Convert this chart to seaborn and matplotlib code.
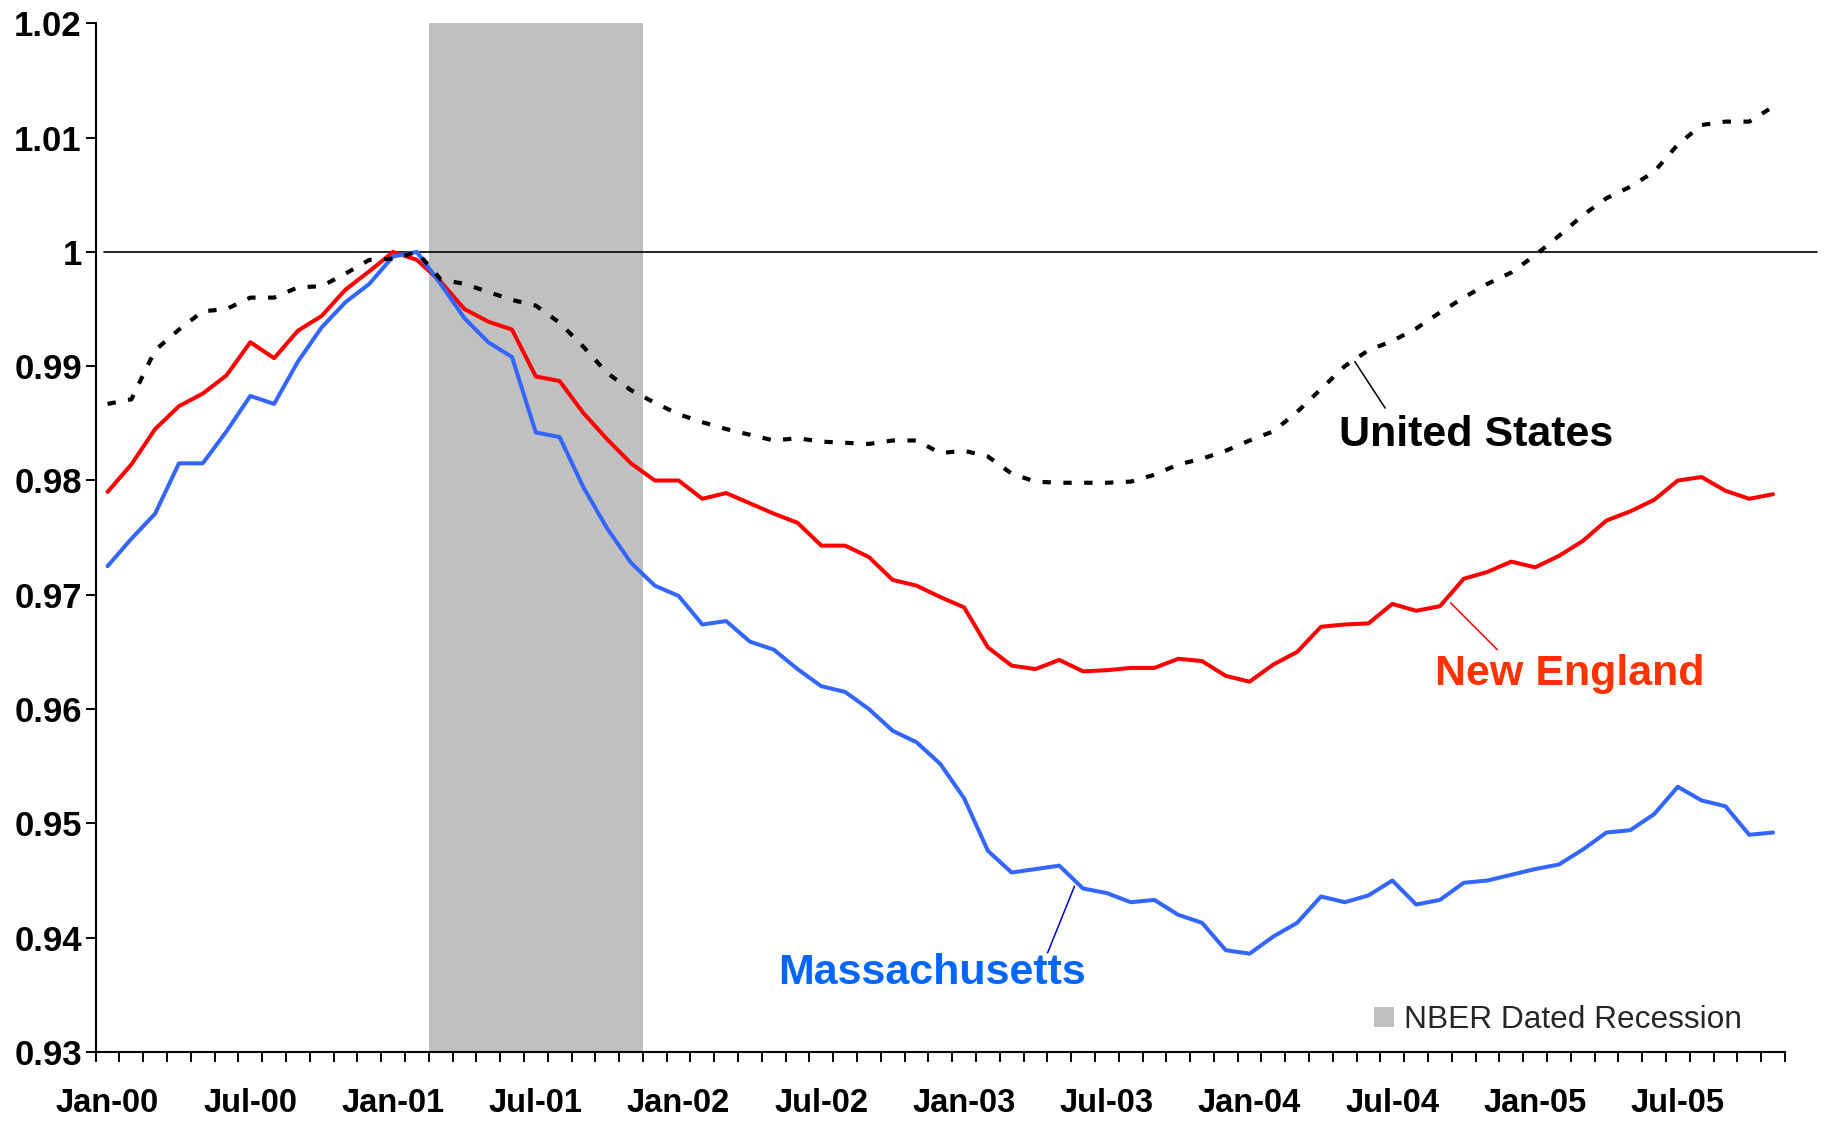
import matplotlib
matplotlib.use("Agg")
import matplotlib.pyplot as plt
from matplotlib.patches import Patch
from matplotlib.ticker import FixedLocator, FuncFormatter
import numpy as np
import pandas as pd
import seaborn as sns

# monthly categories, Jan-00 .. Nov-05
months = pd.date_range("2000-01-01", "2005-11-01", freq="MS").strftime("%b-%y").tolist()
tick_labels = ["Jan-00", "Jul-00", "Jan-01", "Jul-01", "Jan-02", "Jul-02",
               "Jan-03", "Jul-03", "Jan-04", "Jul-04", "Jan-05", "Jul-05"]

massachusetts = [
    0.9725, 0.9749, 0.9771, 0.9815, 0.9815, 0.9843, 0.9874, 0.9867, 0.9904, 0.9934, 0.9956, 0.9972,
    0.9996, 1.0000, 0.9972, 0.9942, 0.9921, 0.9908, 0.9842, 0.9838, 0.9794, 0.9758, 0.9728, 0.9708,
    0.9699, 0.9674, 0.9677, 0.9659, 0.9652, 0.9635, 0.9620, 0.9615, 0.9600, 0.9581, 0.9571, 0.9552,
    0.9522, 0.9476, 0.9457, 0.9460, 0.9463, 0.9443, 0.9439, 0.9431, 0.9433, 0.9420, 0.9413, 0.9389,
    0.9386, 0.9401, 0.9413, 0.9436, 0.9431, 0.9437, 0.9450, 0.9429, 0.9433, 0.9448, 0.9450, 0.9455,
    0.9460, 0.9464, 0.9477, 0.9492, 0.9494, 0.9508, 0.9532, 0.9520, 0.9515, 0.9490, 0.9492,
]
new_england = [
    0.9790, 0.9814, 0.9845, 0.9865, 0.9876, 0.9892, 0.9921, 0.9907, 0.9931, 0.9944, 0.9967, 0.9983,
    1.0000, 0.9993, 0.9974, 0.9950, 0.9939, 0.9932, 0.9891, 0.9887, 0.9859, 0.9836, 0.9815, 0.9800,
    0.9800, 0.9784, 0.9789, 0.9780, 0.9771, 0.9763, 0.9743, 0.9743, 0.9733, 0.9713, 0.9708, 0.9698,
    0.9689, 0.9654, 0.9638, 0.9635, 0.9643, 0.9633, 0.9634, 0.9636, 0.9636, 0.9644, 0.9642, 0.9629,
    0.9624, 0.9639, 0.9650, 0.9672, 0.9674, 0.9675, 0.9692, 0.9686, 0.9690, 0.9714, 0.9720, 0.9729,
    0.9724, 0.9734, 0.9747, 0.9765, 0.9773, 0.9783, 0.9800, 0.9803, 0.9791, 0.9784, 0.9788,
]
united_states = [
    0.9867, 0.9871, 0.9914, 0.9932, 0.9948, 0.9950, 0.9960, 0.9960, 0.9969, 0.9970, 0.9981, 0.9993,
    0.9994, 1.0000, 0.9976, 0.9972, 0.9965, 0.9958, 0.9953, 0.9938, 0.9917, 0.9894, 0.9879, 0.9868,
    0.9858, 0.9851, 0.9845, 0.9840, 0.9835, 0.9837, 0.9834, 0.9833, 0.9832, 0.9835, 0.9835, 0.9824,
    0.9826, 0.9821, 0.9806, 0.9799, 0.9798, 0.9798, 0.9798, 0.9799, 0.9805, 0.9814, 0.9819, 0.9826,
    0.9835, 0.9843, 0.9860, 0.9880, 0.9900, 0.9914, 0.9922, 0.9933, 0.9947, 0.9960, 0.9972, 0.9982,
    0.9997, 1.0014, 1.0032, 1.0047, 1.0057, 1.0070, 1.0094, 1.0111, 1.0114, 1.0114, 1.0127,
]

recession_start = "Mar-01"
recession_end = "Nov-01"

df = pd.DataFrame({
    "month": months,
    "idx": np.arange(len(months)),
    "Massachusetts": massachusetts,
    "New England": new_england,
    "United States": united_states,
})

sns.set_theme(style="white")
plt.rcParams["font.family"] = ["Liberation Sans", "DejaVu Sans"]

fig = plt.figure(figsize=(18.29, 11.21), dpi=100)
ax = fig.add_axes([0.0523, 0.0616, 0.9236, 0.9176])

# recession band
i0 = months.index(recession_start)
i1 = months.index(recession_end)
ax.axvspan(i0 - 0.5, i1 + 0.5, color="#C0C0C0", lw=0, zorder=0)

sns.lineplot(data=df, x="idx", y="New England", ax=ax, color="#FF0000", lw=2.9, zorder=3)
sns.lineplot(data=df, x="idx", y="Massachusetts", ax=ax, color="#3366FF", lw=2.9, zorder=3)
sns.lineplot(data=df, x="idx", y="United States", ax=ax, color="black", lw=3.0, zorder=4)
ax.lines[-1].set_linestyle((0, (2.0, 3.0)))
ax.lines[-1].set_dash_capstyle("butt")

ax.axhline(1.0, xmin=0.005, xmax=1.019, color="black", lw=1.2, clip_on=False, zorder=2)

ax.set_xlim(-0.5, len(months) - 0.5)
ax.set_ylim(0.93, 1.02)

# axes styling
sns.despine(ax=ax)
for s in ("left", "bottom"):
    ax.spines[s].set_color("black")
    ax.spines[s].set_linewidth(1.5)

ax.yaxis.set_major_locator(FixedLocator(np.round(np.arange(0.93, 1.0201, 0.01), 2)))
ax.yaxis.set_major_formatter(FuncFormatter(lambda v, p: f"{v:.2f}".rstrip("0").rstrip(".")))
ax.tick_params(axis="y", which="major", direction="out", length=7, width=1.4,
               color="black", pad=3, labelsize=25, left=True)

tick_pos = [months.index(t) for t in tick_labels]
ax.set_xticks(tick_pos)
ax.set_xticklabels(tick_labels)
ax.set_xticks(np.arange(-0.5, len(months), 1.0), minor=True)
ax.tick_params(axis="x", which="major", length=0, pad=26, labelsize=23.5)
ax.tick_params(axis="x", which="minor", direction="out", length=7, width=1.4,
               color="black", bottom=True)
for lab in ax.get_xticklabels() + ax.get_yticklabels():
    lab.set_fontweight("bold")
    lab.set_color("black")
ax.set_xlabel("")
ax.set_ylabel("")
ax.grid(False)

# series labels with leader lines
ax.plot([52.42, 53.70], [0.99041, 0.98633], color="black", lw=1.1, zorder=5)
ax.text(57.53, 0.98306, "United States", ha="center", va="baseline",
        fontsize=31, fontweight="bold", color="black")

ax.plot([56.45, 58.41], [0.96929, 0.96520], color="#FF0000", lw=1.1, zorder=5)
ax.text(61.45, 0.96214, "New England", ha="center", va="baseline",
        fontsize=31, fontweight="bold", color="#FF3300")

ax.plot([40.64, 39.51], [0.94449, 0.93867], color="#0000CC", lw=1.1, zorder=5)
ax.text(34.65, 0.93592, "Massachusetts", ha="center", va="baseline",
        fontsize=31, fontweight="bold", color="#0066FF")

ax.legend(handles=[Patch(facecolor="#C0C0C0", edgecolor="none", label="NBER Dated Recession")],
          loc="center left", bbox_to_anchor=(0.7569, 0.031), frameon=False,
          fontsize=22.8, handlelength=0.61, handleheight=0.61, handletextpad=0.33,
          borderpad=0, borderaxespad=0)

fig.savefig("out.png", dpi=100)
